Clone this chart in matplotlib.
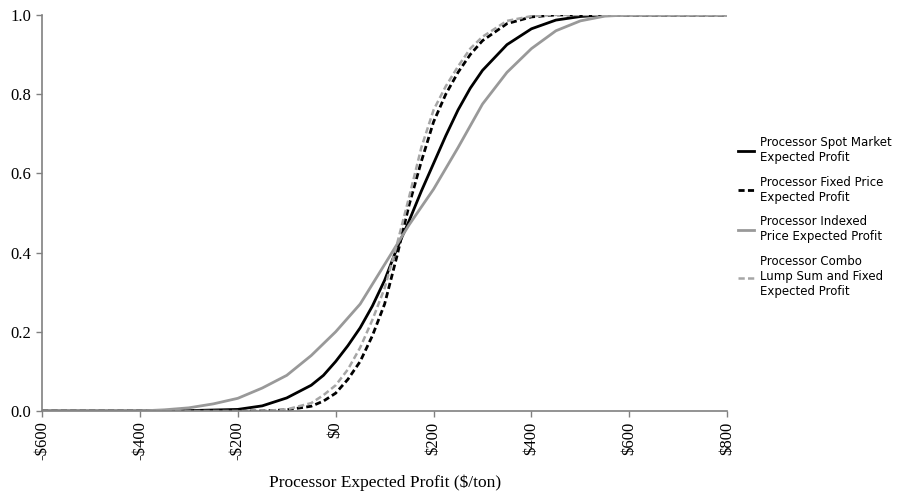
import numpy as np
import matplotlib
matplotlib.use("Agg")
import matplotlib.pyplot as plt

# profit values ($/ton) and cumulative probabilities
spot_x = [-600, -400, -300, -200, -150, -100, -50, -25, 0, 25, 50, 75, 100, 125, 150, 175, 200, 225, 250, 275, 300, 350, 400, 450, 500, 550, 800]
spot_y = [0.0, 0.0, 0.001, 0.004, 0.013, 0.033, 0.065, 0.09, 0.125, 0.165, 0.21, 0.265, 0.33, 0.41, 0.48, 0.555, 0.625, 0.695, 0.76, 0.815, 0.86, 0.925, 0.965, 0.987, 0.996, 1.0, 1.0]

fixed_x = [-600, -150, -100, -50, -25, 0, 25, 50, 75, 100, 125, 150, 175, 200, 225, 250, 275, 300, 350, 400, 450, 800]
fixed_y = [0.0, 0.0, 0.003, 0.012, 0.025, 0.045, 0.08, 0.125, 0.19, 0.27, 0.39, 0.52, 0.63, 0.73, 0.80, 0.855, 0.90, 0.935, 0.978, 0.995, 1.0, 1.0]

indexed_x = [-600, -400, -350, -300, -250, -200, -150, -100, -50, 0, 50, 100, 125, 150, 200, 250, 300, 350, 400, 450, 500, 550, 600, 800]
indexed_y = [0.0, 0.0, 0.003, 0.008, 0.018, 0.032, 0.058, 0.09, 0.14, 0.20, 0.27, 0.37, 0.42, 0.47, 0.56, 0.665, 0.775, 0.855, 0.915, 0.96, 0.985, 0.997, 1.0, 1.0]

combo_x = [-600, -150, -100, -50, -25, 0, 25, 50, 75, 100, 125, 150, 175, 200, 225, 250, 275, 300, 350, 400, 450, 800]
combo_y = [0.0, 0.0, 0.004, 0.02, 0.04, 0.065, 0.105, 0.16, 0.23, 0.31, 0.42, 0.54, 0.665, 0.76, 0.82, 0.87, 0.915, 0.945, 0.985, 0.997, 1.0, 1.0]

labels = ["Processor Spot Market\nExpected Profit",
          "Processor Fixed Price\nExpected Profit",
          "Processor Indexed\nPrice Expected Profit",
          "Processor Combo\nLump Sum and Fixed\nExpected Profit"]

xticks = [-600, -400, -200, 0, 200, 400, 600, 800]
yticks = [0.0, 0.2, 0.4, 0.6, 0.8, 1.0]

fig = plt.figure(figsize=(9, 4.98), dpi=100)
ax = fig.add_axes([0.0467, 0.1747, 0.7613, 0.7953])

ax.plot(spot_x, spot_y, color="black", lw=2.0, label=labels[0])
ax.plot(fixed_x, fixed_y, color="black", lw=2.0, ls=(0, (2.2, 1.2)), label=labels[1])
ax.plot(indexed_x, indexed_y, color="#999999", lw=2.0, label=labels[2])
ax.plot(combo_x, combo_y, color="#a6a6a6", lw=1.8, ls=(0, (2.5, 1.3)), label=labels[3])

ax.set_xlim(-600, 800)
ax.set_ylim(0, 1.0)
ax.set_xticks(xticks)
ax.set_xticklabels([("-$%d" % -v) if v < 0 else ("$%d" % v) for v in xticks],
                   rotation=90, fontsize=12, family="Liberation Serif")
ax.set_yticks(yticks)
ax.set_yticklabels(["%.1f" % v for v in yticks], fontsize=12, family="Liberation Serif")
ax.set_xlabel("Processor Expected Profit ($/ton)", fontsize=12.5, family="Liberation Serif", labelpad=10)

for s in ["top", "right"]:
    ax.spines[s].set_visible(False)
for s in ["left", "bottom"]:
    ax.spines[s].set_color("#808080")
    ax.spines[s].set_linewidth(1.2)
ax.tick_params(colors="#808080", labelcolor="black", length=4, width=1)

ax.legend(loc="center left", bbox_to_anchor=(1.0, 0.49), frameon=False,
          handlelength=1.4, handletextpad=0.5, labelspacing=1.0,
          prop={"family": "DejaVu Sans", "size": 8.5})

fig.savefig("out.png", dpi=100)
